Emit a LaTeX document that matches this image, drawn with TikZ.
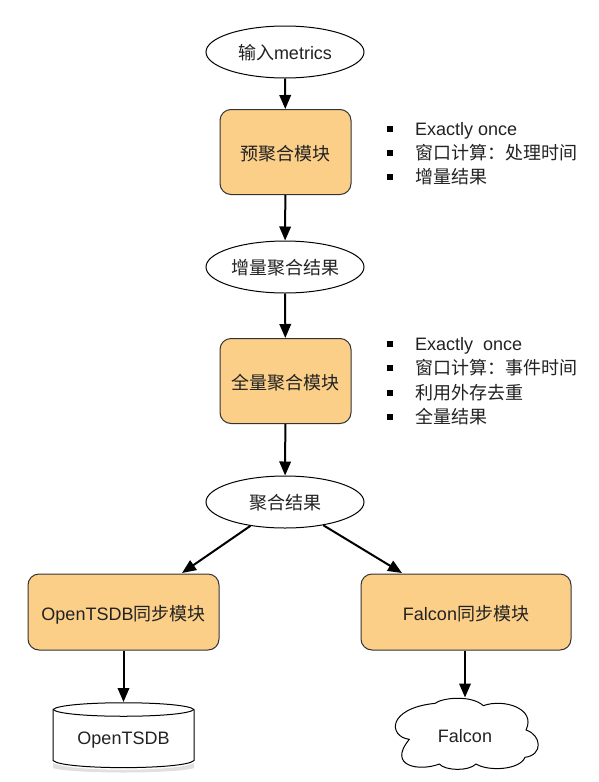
\documentclass[tikz,border=0pt]{standalone}
\usepackage{fontspec}
\setmainfont{Liberation Sans}
\newfontfamily\cjk{Noto Sans CJK SC}
\newcommand{\zh}[1]{{\cjk #1}}
\usetikzlibrary{arrows.meta,shapes.geometric}
\definecolor{boxfill}{HTML}{FBCF88}
\definecolor{ink}{HTML}{222222}
\tikzset{
  x=1pt,y=-1pt,
  every node/.style={font=\fontsize{18}{21}\selectfont,text=ink},
  oval/.style={draw=black,line width=1pt,ellipse,fill=white,minimum width=158pt,minimum height=52pt,inner sep=0pt,text height=15pt,text depth=1pt},
  module/.style={draw=black!80,line width=1pt,fill=boxfill,rounded corners=11pt,inner sep=0pt,text height=17pt,text depth=1pt},
  flow/.style={draw=black,line width=2pt,-{Triangle[length=14pt,width=11.5pt]}},
  bullet/.style={fill=black,minimum size=5.3pt,inner sep=0pt},
  note/.style={anchor=west,inner sep=0pt,text height=16pt,text depth=3pt},
  plainlabel/.style={inner sep=0pt},
  outline/.style={draw=black,line width=1pt,fill=white,line join=round},
}
\begin{document}
\begin{tikzpicture}
\useasboundingbox (0,0) rectangle (599,782);
\fill[white] (0,0) rectangle (599,782);

\node[oval] (in) at (285,52) {\zh{输入}metrics};
\node[module,minimum width=131pt,minimum height=85pt] (pre) at (285.5,152) {\zh{预聚合模块}};
\node[oval] (inc) at (285,267) {\zh{增量聚合结果}};
\node[module,minimum width=131pt,minimum height=85pt] (full) at (285.5,381) {\zh{全量聚合模块}};
\node[oval] (res) at (285,502) {\zh{聚合结果}};
\node[module,minimum width=191pt,minimum height=76pt] (ots) at (123.5,612) {OpenTSDB\zh{同步模块}};
\node[module,minimum width=210pt,minimum height=76pt] (fal) at (466,612) {Falcon\zh{同步模块}};

% cylinder
\fill[black,opacity=.12] (53,763) .. controls (70,772) and (177,772) .. (194,763) -- (194,768) .. controls (177,774) and (70,774) .. (53,768) -- cycle;
\path[outline] (53,709.5) -- (53,760.5) .. controls (62,770) and (185,770) .. (194,760.5) -- (194,709.5)
  .. controls (185,700.5) and (62,700.5) .. (53,709.5) -- cycle;
\draw[line width=1pt] (53,709.5) .. controls (62,718.5) and (185,718.5) .. (194,709.5);
\node[plainlabel] (db) at (123.5,740) {OpenTSDB};

% cloud
\begin{scope}[shift={(380,640)},x=0.3333pt,y=-0.3333pt]
\path[outline] (165,190)
  .. controls (190,172) and (275,165) .. (310,197)
  .. controls (370,175) and (470,205) .. (438,270)
  .. controls (485,285) and (490,345) .. (435,352)
  .. controls (420,390) and (325,395) .. (288,372)
  .. controls (265,395) and (195,392) .. (178,372)
  .. controls (120,395) and (20,380) .. (88,298)
  .. controls (25,290) and (20,205) .. (165,190) -- cycle;
\end{scope}
\node[plainlabel] (cl) at (465,736) {Falcon};

\coordinate (otsin) at (182,573);
\coordinate (falin) at (402,573);
\coordinate (dbin) at (123.5,702);
\coordinate (clin) at (465,697.5);

\draw[flow] (in) -- (pre);
\draw[flow] (pre) -- (inc);
\draw[flow] (inc) -- (full);
\draw[flow] (full) -- (res);
\draw[flow] (res) -- (otsin);
\draw[flow] (res) -- (falin);
\draw[flow] (ots.south -| dbin) -- (dbin);
\draw[flow] (fal.south -| clin) -- (clin);

\foreach \n/\yy/\t in {a/129/Exactly once,b/153/\zh{窗口计算：处理时间},c/177/\zh{增量结果},d/344/Exactly\ \ once,e/368/\zh{窗口计算：事件时间},f/393/\zh{利用外存去重},g/417/\zh{全量结果}}{
  \node[bullet] (b\n) at (390,\yy) {};
  \node[note] (t\n) at (415,\yy) {\t};
}
\end{tikzpicture}
\end{document}
